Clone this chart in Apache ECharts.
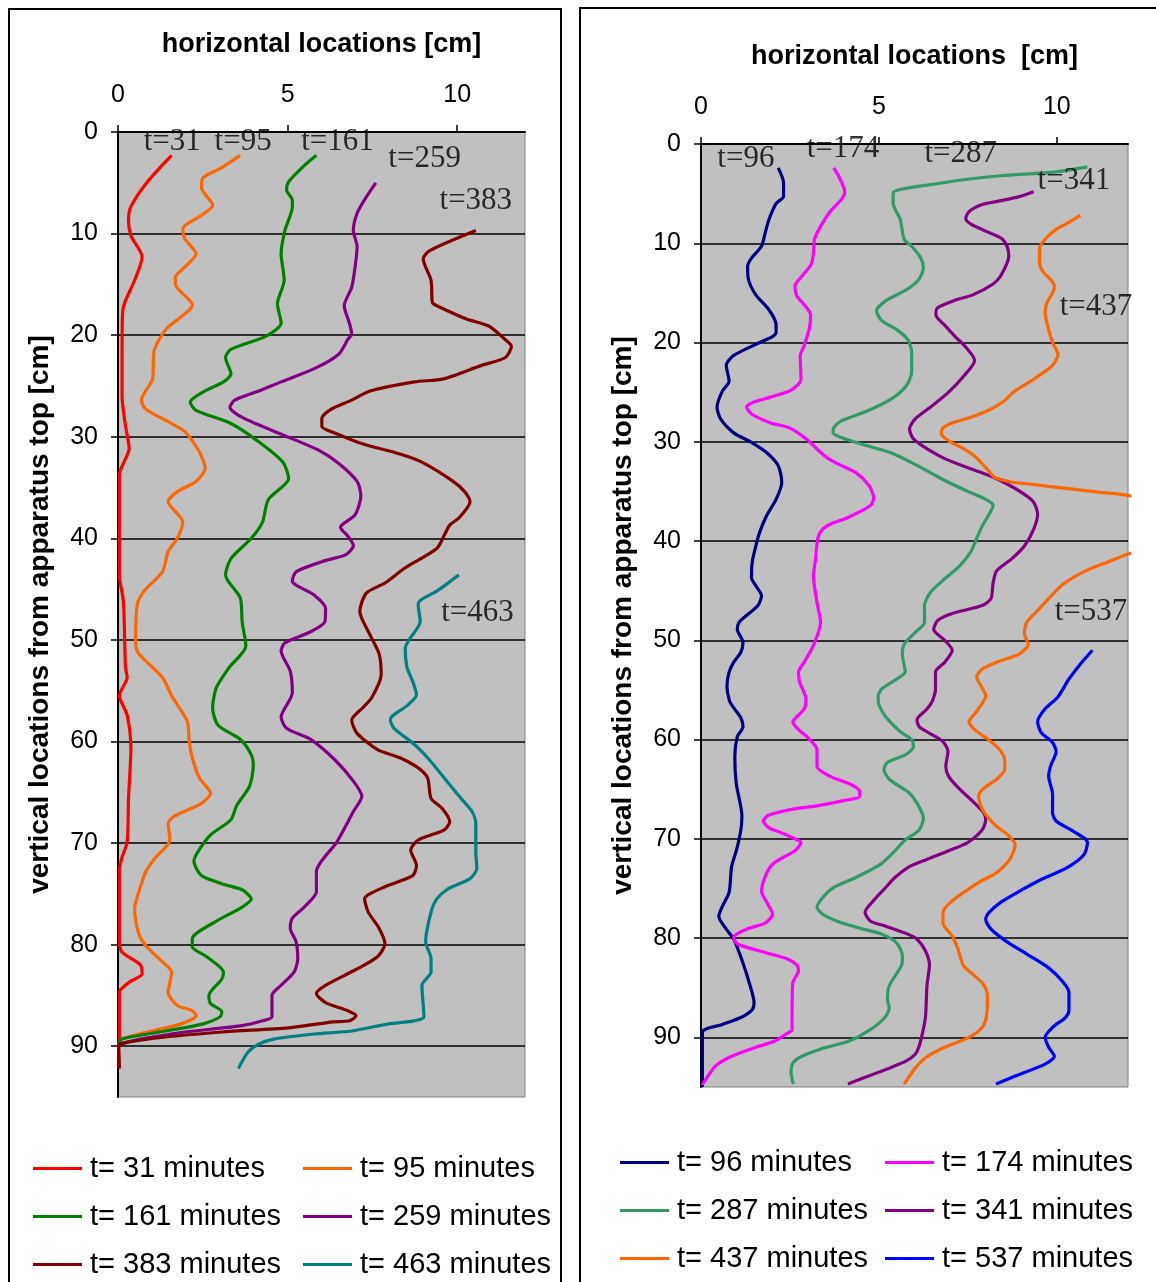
<!DOCTYPE html>
<html><head><meta charset="utf-8">
<script src="https://cdn.jsdelivr.net/npm/echarts@6/dist/echarts.min.js"></script>
<style>html,body{margin:0;padding:0;background:#fff}#c{width:1156px;height:1282px}</style>
</head><body><div id="c"></div>
<script>
// Axis ranges (cm) and tick labels
const X_MIN = 0, X_MAX = 12, X_STEP = 5;
const Y_MIN = 0, Y_MAX = 95, Y_STEP = 10;
const xTicks = [0, 5, 10];
const yTicks = [0, 10, 20, 30, 40, 50, 60, 70, 80, 90];

// ---- Left panel series: [horizontal cm, vertical depth cm]
const t31 = [[1.58,2.3],[0.87,4.9],[0.38,7.35],[0.31,8.7],[0.38,10.2],[0.71,12.3],[0.49,14.6],[0.22,16.6],[0.14,17.6],[0.12,21.6],[0.12,26],[0.22,28.9],[0.33,31.2],[0.27,31.8],[0.04,33.8],[0.04,43.6],[0.16,46.2],[0.22,52.7],[0.27,53.7],[0.04,55.5],[0.27,57.4],[0.38,60.7],[0.31,65.6],[0.27,69.9],[0.11,71.5],[0.04,72.8],[0.04,78.1],[0.04,79.4],[0.11,80.7],[0.66,82],[0.71,82.9],[0.33,83.7],[0.04,84.7],[0.04,86],[0.04,89.6],[0.02,90],[0.04,92.1]];
const t95 = [[3.6,2.3],[3.06,3.5],[2.51,4.5],[2.46,5.5],[2.79,7.2],[2.46,8.2],[1.91,9.5],[1.97,10.5],[2.3,12],[1.97,13.3],[1.69,14.3],[1.69,15],[2.19,17],[1.42,19.4],[1.06,21.6],[1.02,24.3],[0.69,26.4],[0.82,27.3],[1.53,28.6],[1.97,29.5],[2.4,31.5],[2.57,33.1],[2.3,34.4],[1.75,35.4],[1.48,36.4],[1.91,38.4],[1.75,40],[1.48,41.3],[1.31,43.3],[0.77,45.2],[0.57,46.5],[0.52,50.1],[0.6,51.3],[1.31,53.7],[1.58,55.5],[2.04,58],[2.1,60],[2.19,61.6],[2.4,63.6],[2.73,65.1],[2.46,66.1],[1.64,67.4],[1.48,68.1],[1.53,69.7],[1.09,71.5],[0.82,72.8],[0.55,75.5],[0.49,76.4],[0.6,78.8],[0.82,80.1],[1.31,81.7],[1.58,82.7],[1.48,84.7],[1.75,86],[2.19,86.5],[2.3,87],[1.86,87.8],[0.87,88.6],[0.11,89.3],[0.02,89.8]];
const t161 = [[5.85,2.3],[5.46,3.4],[5.03,4.9],[4.97,5.7],[5.14,6.7],[5.14,7.35],[4.92,9.7],[4.81,12],[4.9,14.6],[4.7,16.9],[4.81,18.8],[4.37,20.1],[3.33,21.4],[3.17,22.2],[3.33,23.8],[3.11,24.6],[2.51,25.6],[2.13,26.6],[2.3,27.4],[3.33,28.7],[4.15,30.5],[4.86,32.5],[5.03,34.1],[4.43,36.2],[4.26,38.4],[3.93,40],[3.33,42],[3.17,43.6],[3.61,45.9],[3.66,48.2],[3.77,50.6],[3.28,52.7],[2.9,54.7],[2.79,56.7],[2.95,58.4],[3.61,59.8],[3.93,61.3],[3.99,62.3],[3.88,64.4],[3.5,66.3],[3.33,67.7],[2.73,69.2],[2.35,70.9],[2.24,71.8],[2.46,73.2],[3.06,74],[3.66,74.6],[3.93,75.5],[3.61,76.4],[2.84,77.8],[2.19,79.4],[2.19,80.2],[2.62,81.2],[3.11,82.7],[3.06,83.4],[2.68,85],[2.73,85.8],[3.06,86.6],[3.01,87.1],[2.51,87.8],[1.75,88.3],[0.87,88.8],[0.11,89.3],[0.02,89.8]];
const t259 = [[7.6,5],[7.32,6.4],[7.05,8],[6.94,9.7],[7.05,11.3],[6.99,13.3],[6.89,15.3],[6.67,17.1],[6.83,18.9],[6.89,19.9],[6.78,20.4],[6.5,21.9],[5.79,23.3],[4.81,24.6],[4.15,25.5],[3.44,26.4],[3.3,27.1],[3.66,28.1],[4.92,29.9],[5.9,31.3],[6.5,32.6],[7.05,34.4],[7.16,35.8],[6.99,37.7],[6.56,38.9],[6.78,39.8],[6.94,40.7],[6.72,41.6],[6.01,42.3],[5.25,43.3],[5.14,44.2],[5.79,45.6],[6.12,46.9],[6.1,48.2],[5.68,49.2],[4.92,50.3],[4.81,51.1],[5.08,53.1],[5.14,55.2],[4.81,57.6],[4.97,58.7],[5.68,59.8],[6.39,61.8],[6.94,63.9],[7.19,65.4],[6.94,66.9],[6.45,69.9],[5.85,72.8],[5.85,74.8],[5.46,76.4],[5.14,77.4],[5.08,78.4],[5.25,79.7],[5.3,81.4],[5.19,82.7],[4.81,84],[4.54,85],[4.54,87.1],[4.26,87.5],[3.61,88],[1.97,88.6],[0.66,89.3],[0.02,89.8]];
const t383 = [[10.55,9.7],[9.18,11.7],[9.0,12.5],[9.23,14.6],[9.27,16.8],[9.4,17.1],[10.27,18.4],[10.93,19.1],[11.37,20.3],[11.6,21.1],[11.42,22.2],[10.7,23],[9.6,24.3],[8.74,24.6],[7.43,25.5],[6.89,26.4],[6.28,27.3],[6.01,28.2],[6.01,29],[6.45,29.7],[7.21,30.7],[8.31,31.7],[8.96,32.5],[9.84,34.3],[10.22,35.4],[10.38,36.4],[10.05,38],[9.78,38.7],[9.62,39.7],[9.4,41],[8.47,42.9],[7.87,44.4],[7.32,45.4],[7.13,47.2],[7.43,49.5],[7.7,51.4],[7.76,53.4],[7.48,55.7],[7.21,56.7],[6.89,57.9],[7.05,59.2],[7.65,60.8],[8.31,61.6],[8.85,62.6],[9.13,63.6],[9.23,65.6],[9.56,66.6],[9.78,67.9],[9.62,68.7],[8.85,69.7],[8.63,70.7],[8.8,72.2],[8.69,73.2],[7.87,74.3],[7.27,75.5],[7.38,76.8],[7.7,78.4],[7.87,79.9],[7.65,81.2],[6.99,82.5],[6.12,84],[5.85,84.8],[6.12,85.7],[6.78,86.5],[7.02,87],[6.83,87.5],[6.34,87.6],[5.03,88.2],[3.06,88.6],[0.87,89.3],[0.02,89.9],[0.02,90.3],[0.04,92.2]];
const t463 = [[10.05,43.6],[9.4,45.2],[8.96,46],[8.85,46.5],[8.91,48.2],[8.58,50],[8.47,50.8],[8.52,52.7],[8.69,54.1],[8.8,55.4],[8.55,56.4],[8.09,57.5],[8.03,57.9],[8.14,58.7],[8.74,60.3],[9.18,61.8],[9.62,63.6],[10.11,65.6],[10.44,66.9],[10.55,68.1],[10.55,70.9],[10.58,72.5],[10.38,73.5],[9.73,74.5],[9.4,75.5],[9.23,76.8],[9.07,79.7],[9.23,81.4],[9.23,82.7],[8.96,84],[9.02,87.1],[8.74,87.5],[7.98,87.8],[6.89,88.5],[5.79,88.8],[4.59,89.3],[4.15,89.8],[3.83,90.6],[3.55,92.2]];

// ---- Right panel series
const t96 = [[2.17,2.4],[2.32,3.9],[2.32,5.3],[2.11,6],[1.91,7.6],[1.8,9],[1.7,10.3],[1.42,11.5],[1.31,12.3],[1.33,13.6],[1.54,15.2],[1.91,16.7],[2.11,18.2],[2.11,19],[2.01,19.4],[1.65,20],[0.92,21.3],[0.71,22.3],[0.79,23.9],[0.6,24.9],[0.45,26.5],[0.55,27.7],[0.92,29.1],[1.44,30.1],[1.85,31.1],[2.17,32.4],[2.27,34.1],[2.11,35.8],[1.85,37.4],[1.65,39.1],[1.54,40.5],[1.44,42.1],[1.42,43.7],[1.54,44.5],[1.7,45.5],[1.6,46.5],[1.28,47.5],[1.07,48.2],[1.02,48.9],[1.18,50.2],[1.12,51.2],[0.92,52.2],[0.79,53.2],[0.73,54.6],[0.8,56.1],[0.92,56.8],[1.12,57.8],[1.18,58.7],[1.02,59.7],[0.95,61.7],[0.99,64.4],[1.15,67.7],[1.12,69.1],[1.0,71.1],[0.86,72.8],[0.79,75.4],[0.6,76.8],[0.5,77.8],[0.71,79.1],[0.92,80.1],[1.18,82.5],[1.33,84.2],[1.49,86.5],[1.44,87.2],[1.12,88],[0.6,88.7],[0.04,89.5],[0.04,95]];
const t174 = [[3.73,2.4],[3.89,3.4],[4.04,4.8],[3.94,5.6],[3.63,6.8],[3.36,8.3],[3.19,9.6],[3.16,11],[3.1,12.1],[2.84,13.3],[2.64,14.3],[2.69,15.3],[2.9,16.2],[3.08,17.2],[3.05,18.5],[2.9,20.3],[2.79,21.3],[2.81,23.7],[2.74,24.2],[2.48,24.9],[1.96,25.5],[1.49,26],[1.28,26.5],[1.42,27.2],[1.96,28.1],[2.48,28.6],[2.95,29.7],[3.47,31.4],[3.83,32.2],[4.35,33.1],[4.72,34.4],[4.85,35.6],[4.77,36.4],[4.15,37.6],[3.63,38.3],[3.42,38.8],[3.29,39.6],[3.21,42.1],[3.16,43.5],[3.26,46.2],[3.36,48.2],[3.16,50.5],[2.9,52.2],[2.74,53.2],[2.77,54.2],[2.95,55.9],[2.9,56.9],[2.64,57.9],[2.58,58.2],[2.74,59],[3.0,59.8],[3.26,61],[3.26,62.7],[3.63,63.7],[4.2,64.5],[4.46,65.2],[4.46,65.7],[3.94,66.2],[3.21,66.7],[2.58,67],[1.91,67.6],[1.75,68.2],[1.91,68.9],[2.27,69.4],[2.58,69.9],[2.81,70.4],[2.64,71.2],[2.06,72.4],[1.85,73.4],[1.7,75.3],[1.85,76.4],[2.01,77.6],[1.8,78.5],[1.28,79.1],[0.92,79.9],[1.02,80.6],[1.85,81.5],[2.43,82.1],[2.69,82.7],[2.74,83.3],[2.58,84.5],[2.56,87.9],[2.56,89.2],[2.38,89.7],[2.06,90.4],[1.54,91],[0.86,91.9],[0.4,92.9],[0.14,94.2],[0.03,94.8]];
const t287 = [[10.86,2.3],[9.98,2.8],[8.42,3.2],[7.38,3.6],[6.44,4.1],[5.71,4.5],[5.4,4.9],[5.4,6],[5.6,7.6],[5.71,9.6],[5.92,10.3],[6.18,11.5],[6.25,12.5],[6.13,13.6],[5.81,14.6],[5.19,15.8],[4.93,16.8],[5.08,17.8],[5.5,18.7],[5.81,19.7],[5.92,21],[5.92,23],[5.76,24.4],[5.34,25.7],[4.67,26.9],[3.94,27.9],[3.73,28.6],[3.71,29.1],[4.04,29.7],[4.67,30.4],[5.34,31.1],[5.92,32.1],[6.44,33.1],[6.85,33.9],[7.38,34.8],[8.0,35.8],[8.21,36.4],[8.1,37.3],[7.9,38.5],[7.74,39.8],[7.58,41.1],[7.27,42.5],[6.85,43.8],[6.44,45.2],[6.28,46.5],[6.28,48.2],[6.02,49.2],[5.71,50.4],[5.66,51.4],[5.74,53.2],[5.5,53.9],[5.08,54.9],[4.98,55.6],[5.0,56.5],[5.19,57.7],[5.6,59.2],[5.92,60],[5.97,60.7],[5.76,61.5],[5.24,62.3],[5.14,63],[5.29,64],[5.86,65.4],[6.07,66.4],[6.25,67.9],[6.13,69.1],[5.71,70.2],[5.4,71.4],[5.03,72.6],[4.35,73.9],[3.73,74.9],[3.42,75.9],[3.26,76.9],[3.42,77.6],[3.83,78.3],[4.46,79],[5.08,79.6],[5.5,80.5],[5.66,81.8],[5.63,82.8],[5.29,84.8],[5.24,86.2],[5.29,87],[5.19,87.9],[4.77,89.2],[4.15,90.4],[3.52,91],[2.84,91.9],[2.58,92.6],[2.53,93.6],[2.6,94.7]];
const t341 = [[9.35,4.8],[8.94,5.3],[8.31,5.8],[7.9,6.1],[7.54,6.8],[7.44,7.5],[7.6,8.1],[8.02,8.8],[8.44,9.5],[8.6,10.3],[8.65,11.3],[8.42,13.3],[8.21,14.1],[7.64,15.2],[7.17,15.7],[6.65,16.5],[6.6,17.2],[6.86,18.3],[7.17,19.5],[7.4,20.3],[7.69,21.8],[7.38,23.4],[6.96,25],[6.49,26.4],[6.02,27.7],[5.86,28.7],[5.97,29.7],[6.44,30.9],[6.85,31.7],[7.48,32.6],[8.1,33.4],[8.63,34.3],[9.09,35.3],[9.35,36.1],[9.46,37.3],[9.35,38.8],[9.09,40.5],[8.73,41.8],[8.31,43],[8.21,44.2],[8.15,45.8],[7.9,46.5],[7.06,47.3],[6.65,48],[6.54,48.9],[6.85,50],[7.06,51],[6.85,52.2],[6.59,53.2],[6.59,54.9],[6.49,56.2],[6.33,57],[6.07,58],[6.13,58.7],[6.39,59.3],[6.8,60.2],[6.94,61.2],[6.88,62.7],[6.96,63.7],[7.27,65],[7.69,66.4],[7.95,67.4],[8.0,68.1],[7.9,69.1],[7.48,70.4],[6.96,71.2],[6.33,72.1],[5.86,72.8],[5.45,73.9],[5.19,74.9],[4.88,76.1],[4.61,77.4],[4.77,78.3],[5.19,78.8],[5.81,79.6],[6.07,80.1],[6.31,81.3],[6.42,82.7],[6.35,84.8],[6.31,87.9],[6.23,89.5],[6.13,90.9],[6.02,91.7],[5.76,92.4],[5.29,93.1],[4.56,94.1],[4.13,94.7]];
const t437 = [[10.66,7.2],[10.29,8],[9.98,8.6],[9.67,9.6],[9.51,10.6],[9.51,11.8],[9.6,12.8],[9.81,13.6],[9.93,14.3],[9.88,15],[9.72,16],[9.67,17],[9.77,18.7],[9.88,20],[10.03,21.2],[9.88,22.3],[9.35,23.7],[8.78,25],[8.52,25.9],[8.15,26.7],[7.69,27.4],[7.06,28.1],[6.8,28.6],[6.75,29.2],[6.96,29.9],[7.38,30.7],[7.74,31.6],[8.0,32.6],[8.26,33.6],[8.78,34.1],[9.09,34.2],[9.77,34.5],[10.5,34.8],[11.23,35.1],[12.0,35.4],[12.8,36.5],[13.2,38.5],[12.8,40.5],[12.0,41.3],[11.44,42.1],[10.81,43],[10.19,44.3],[9.77,45.8],[9.46,47],[9.15,48.2],[9.09,49.4],[9.2,50.4],[8.94,51.4],[8.31,52.2],[7.9,52.9],[7.75,53.7],[8.0,55.6],[7.8,56.9],[7.6,57.8],[7.53,58.2],[7.69,59],[8.0,59.8],[8.31,60.7],[8.52,61.8],[8.54,63],[8.31,64],[7.95,64.9],[7.8,65.7],[7.9,67],[8.26,68.6],[8.62,69.6],[8.83,70.6],[8.67,72.1],[8.31,73.4],[7.8,74.4],[7.38,75.4],[7.01,76.4],[6.8,77.4],[6.8,78.5],[7.06,79.8],[7.22,81.1],[7.38,82.8],[7.69,83.8],[7.95,84.7],[8.05,85.8],[8.02,87.9],[7.9,89],[7.53,90],[6.85,91],[6.33,92],[6.02,93.1],[5.71,94.7]];
const t537 = [[11.0,51],[10.66,52.4],[10.34,53.9],[10.03,55.7],[9.67,56.9],[9.46,58.2],[9.56,59.3],[9.88,60.3],[9.98,61.2],[9.82,62.7],[9.77,63.7],[9.88,65.5],[9.88,67.4],[9.98,68.2],[10.4,69.1],[10.76,69.9],[10.86,70.4],[10.76,71.6],[10.29,72.9],[9.56,74.1],[8.94,75.3],[8.42,76.4],[8.1,77.4],[8.0,78.1],[8.15,79.1],[8.57,80.3],[9.15,81.6],[9.77,83],[10.19,84.5],[10.34,85.5],[10.34,87.3],[10.24,88],[9.88,89],[9.67,90],[9.77,91],[9.93,91.9],[9.67,92.7],[8.83,93.9],[8.29,94.7]];

// Curve annotations: [text, x cm, depth cm]
const labelsLeft = [['t=31',1.6,1.0],['t=95',3.69,1.0],['t=161',6.47,1.0],['t=259',9.04,2.65],['t=383',10.55,6.8],['t=463',10.6,47.3]];
const labelsRight = [['t=96',1.26,1.5],['t=174',3.99,0.5],['t=287',7.3,1.0],['t=341',10.48,3.7],['t=437',11.1,16.4],['t=537',10.96,47.1]];

// Series definitions: name, data, colour
const leftSeries = [['t= 31 minutes',t31,'#FF0000'],['t= 95 minutes',t95,'#FF6600'],['t= 161 minutes',t161,'#008000'],['t= 259 minutes',t259,'#800080'],['t= 383 minutes',t383,'#800000'],['t= 463 minutes',t463,'#008080']];
const rightSeries = [['t= 96 minutes',t96,'#000080'],['t= 174 minutes',t174,'#FF00FF'],['t= 287 minutes',t287,'#339966'],['t= 341 minutes',t341,'#800080'],['t= 437 minutes',t437,'#FF6600'],['t= 537 minutes',t537,'#0000FF']];

const SANS = 'Liberation Sans, Arial, sans-serif';
const SERIF = 'Liberation Serif, Times New Roman, serif';

function xAx(gi, name){
  return {gridIndex:gi,type:'value',position:'top',min:X_MIN,max:X_MAX,interval:X_STEP,
    name:name,nameLocation:'middle',nameGap:74,
    nameTextStyle:{fontFamily:SANS,fontWeight:'bold',fontSize:27,color:'#000'},
    axisLine:{show:true,onZero:false,lineStyle:{color:'#000',width:2}},
    axisTick:{show:true,length:7,inside:false,customValues:xTicks,lineStyle:{color:'#000',width:1.5}},
    axisLabel:{fontFamily:SANS,fontSize:25,color:'#000',margin:24,customValues:xTicks},
    splitLine:{show:false}};
}
function yAx(gi){
  return {gridIndex:gi,type:'value',inverse:true,min:Y_MIN,max:Y_MAX,interval:Y_STEP,
    name:'vertical locations from apparatus top [cm]',nameLocation:'middle',nameGap:64,
    nameTextStyle:{fontFamily:SANS,fontWeight:'bold',fontSize:28,color:'#000'},
    axisLine:{show:true,onZero:false,lineStyle:{color:'#000',width:2}},
    axisTick:{show:true,length:7,inside:false,customValues:yTicks,lineStyle:{color:'#000',width:1.5}},
    axisLabel:{fontFamily:SANS,fontSize:25,color:'#000',margin:20,customValues:yTicks},
    splitLine:{show:true,lineStyle:{color:'#000',width:1.6}}};
}
function lineSeries(list, gi){
  return list.map(([name,data,color])=>({name,type:'line',xAxisIndex:gi,yAxisIndex:gi,data,
    color,showSymbol:false,symbol:'none',smooth:0.25,lineStyle:{color,width:3.2},z:3,silent:true}));
}
function labelSeries(list, gi){
  return {type:'scatter',name:'lbl'+gi,xAxisIndex:gi,yAxisIndex:gi,symbolSize:1,silent:true,z:10,
    itemStyle:{color:'rgba(0,0,0,0)'},
    data:list.map(l=>[l[1],l[2],l[0]]),
    label:{show:true,position:'inside',formatter:p=>p.value[2],fontFamily:SERIF,fontSize:31,color:'#000'}};
}
function legendItem(name,left,top){
  return {data:[name],orient:'horizontal',left,top,padding:0,itemWidth:49,itemHeight:3,icon:'rect',
    selectedMode:false,textStyle:{fontFamily:SANS,fontSize:29,color:'#000',padding:[0,0,0,3]}};
}
// legend grid placement: columns x, rows top
const legends = [];
const lCols = [33, 303], lRows = [1154, 1202, 1250];
const rCols = [620, 885], rRows = [1148, 1196, 1244];
leftSeries.forEach((s,i)=>legends.push(legendItem(s[0], lCols[i%2], lRows[Math.floor(i/2)])));
rightSeries.forEach((s,i)=>legends.push(legendItem(s[0], rCols[i%2], rRows[Math.floor(i/2)])));

const chart = echarts.init(document.getElementById('c'));
chart.setOption({
  animation:false,
  backgroundColor:'#ffffff',
  graphic:[
    {type:'rect',shape:{x:9,y:9,width:552,height:1300},style:{fill:'none',stroke:'#000',lineWidth:2},silent:true},
    {type:'rect',shape:{x:580,y:8,width:620,height:1300},style:{fill:'none',stroke:'#000',lineWidth:2},silent:true}
  ],
  grid:[
    {left:118,top:132,width:407,height:965,show:true,backgroundColor:'#C0C0C0',borderColor:'#808080',borderWidth:1},
    {left:701,top:144,width:427,height:943,show:true,backgroundColor:'#C0C0C0',borderColor:'#808080',borderWidth:1}
  ],
  xAxis:[xAx(0,'horizontal locations [cm]'),xAx(1,'horizontal locations  [cm]')],
  yAxis:[yAx(0),yAx(1)],
  legend:legends,
  series:[...lineSeries(leftSeries,0),...lineSeries(rightSeries,1),labelSeries(labelsLeft,0),labelSeries(labelsRight,1)]
});
</script></body></html>
